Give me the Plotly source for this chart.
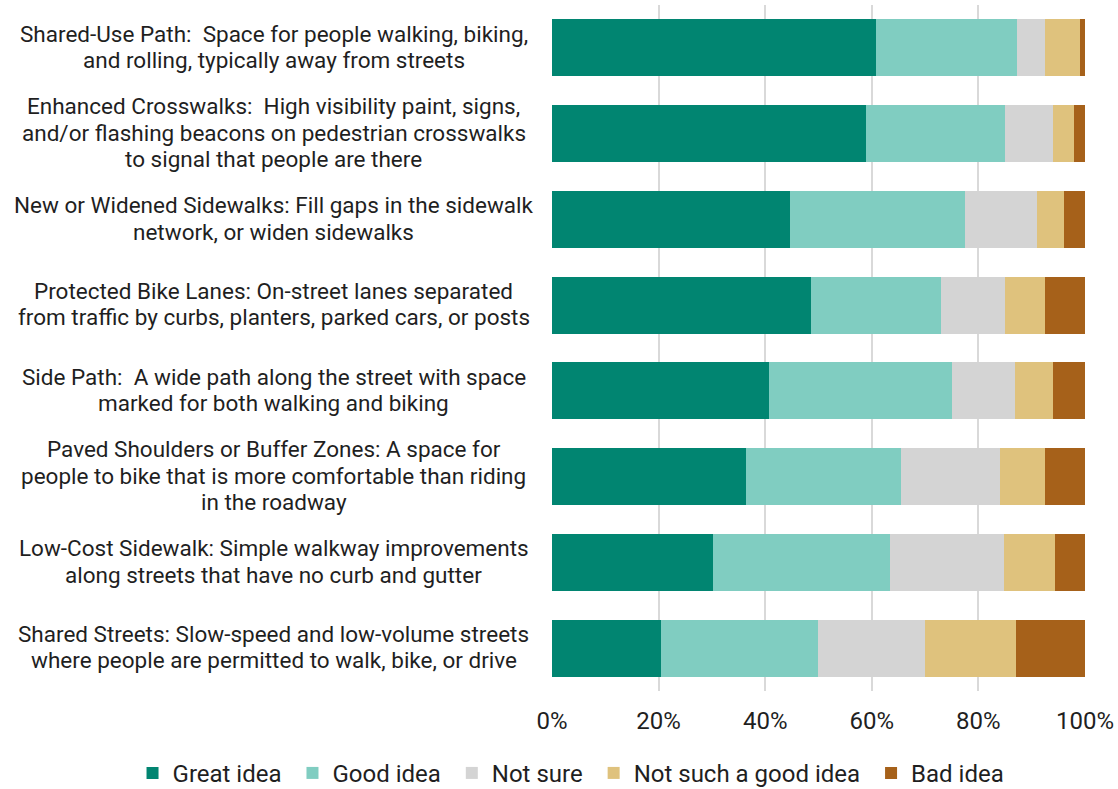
import plotly.graph_objects as go

# --- data (percent of responses) ---
categories = [
    "Shared-Use Path", "Enhanced Crosswalks", "New or Widened Sidewalks",
    "Protected Bike Lanes", "Side Path", "Paved Shoulders or Buffer Zones",
    "Low-Cost Sidewalk", "Shared Streets",
]
label_lines = [
    ["Shared-Use Path:  Space for people walking, biking,",
     "and rolling, typically away from streets"],
    ["Enhanced Crosswalks:  High visibility paint, signs,",
     "and/or flashing beacons on pedestrian crosswalks",
     "to signal that people are there"],
    ["New or Widened Sidewalks: Fill gaps in the sidewalk",
     "network, or widen sidewalks"],
    ["Protected Bike Lanes: On-street lanes separated",
     "from traffic by curbs, planters, parked cars, or posts"],
    ["Side Path:  A wide path along the street with space",
     "marked for both walking and biking"],
    ["Paved Shoulders or Buffer Zones: A space for",
     "people to bike that is more comfortable than riding",
     "in the roadway"],
    ["Low-Cost Sidewalk: Simple walkway improvements",
     "along streets that have no curb and gutter"],
    ["Shared Streets: Slow-speed and low-volume streets",
     "where people are permitted to walk, bike, or drive"],
]
great_idea = [60.7, 58.9, 44.7, 48.6, 40.7, 36.4, 30.2, 20.4]
good_idea = [26.6, 26.0, 32.7, 24.3, 34.4, 29.0, 33.3, 29.5]
not_sure = [5.2, 9.1, 13.6, 12.1, 11.8, 18.7, 21.3, 20.1]
not_such_good = [6.5, 4.0, 5.1, 7.5, 7.1, 8.4, 9.6, 17.0]
bad_idea = [1.0, 2.0, 3.9, 7.5, 6.0, 7.5, 5.6, 13.0]
x_ticks = [0, 20, 40, 60, 80, 100]
x_tick_text = ["0%", "20%", "40%", "60%", "80%", "100%"]

series = [
    ("Great idea", great_idea, "#018571"),
    ("Good idea", good_idea, "#80cdc1"),
    ("Not sure", not_sure, "#d4d4d4"),
    ("Not such a good idea", not_such_good, "#dfc27d"),
    ("Bad idea", bad_idea, "#a6611a"),
]

FS = 22.5
TEXT = "#1f1f1f"

fig = go.Figure()
for name, vals, col in series:
    # trailing nbsp widens the legend entry spacing a little
    fig.add_trace(go.Bar(x=vals, y=categories, name=name + "\u00a0", orientation="h",
                         marker=dict(color=col, line=dict(width=0))))

# category labels: one centred annotation per line (tighter line spacing)
LINE_H = 26.5
for cat, lines in zip(categories, label_lines):
    n = len(lines)
    for i, line in enumerate(lines):
        fig.add_annotation(text=line, x=-0.5216, xref="paper", y=cat, yref="y",
                           xanchor="center", yanchor="middle",
                           yshift=((n - 1) / 2 - i) * LINE_H + 1,
                           showarrow=False, font=dict(size=FS, color=TEXT))

fig.update_layout(
    width=1118, height=789,
    barmode="stack", bargap=0.336,
    plot_bgcolor="white", paper_bgcolor="white",
    font=dict(family="Roboto", size=FS, color=TEXT),
    margin=dict(l=552, r=33, t=5, b=98, autoexpand=False),
    showlegend=True,
    legend=dict(orientation="h", xref="paper", yref="paper",
                x=-0.787, xanchor="left", y=-0.12, yanchor="middle",
                font=dict(size=24), traceorder="normal"),
)
fig.update_xaxes(range=[0, 100], tickvals=x_ticks, ticktext=x_tick_text,
                 tickfont=dict(size=24),
                 showgrid=True, gridcolor="#d9d9d9",
                 gridwidth=2, zeroline=False, showline=False,
                 ticklabelstandoff=13)
fig.update_yaxes(autorange="reversed", showticklabels=False, showgrid=False,
                 zeroline=False, showline=False)

fig.write_html("out.html", config={"displayModeBar": False},
               post_script="document.body.style.margin='0';")
